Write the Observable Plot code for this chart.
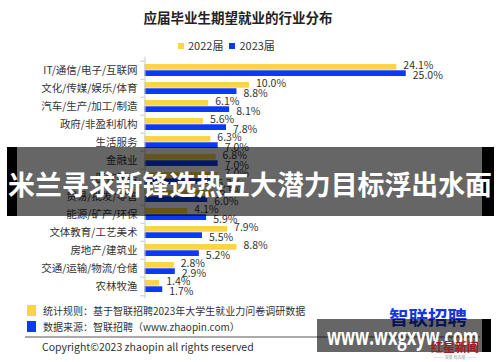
<!DOCTYPE html>
<html><head><meta charset="utf-8">
<script src="https://cdn.jsdelivr.net/npm/d3@7"></script>
<script src="https://cdn.jsdelivr.net/npm/@observablehq/plot@0.6"></script>
<style>
body{margin:0;width:500px;height:362px;overflow:hidden;background:#fff;font-family:"Noto Sans CJK SC","Noto Sans",sans-serif;}
#wrap{position:relative;width:500px;height:362px;}
#chart{position:absolute;left:0;top:0;}
.abs{position:absolute;white-space:nowrap;line-height:1;color:#333;}
#over{position:absolute;left:0;top:0;}
</style></head><body>
<div id="wrap">
<div id="chart"></div>
<div class="abs" id="title" style="left:0;width:476px;text-align:center;top:11px;font-size:13.5px;font-weight:bold;color:#222;">应届毕业生期望就业的行业分布</div>
<div class="abs" id="legend" style="left:178px;top:40px;font-size:11px;"></div>
<div class="abs" style="left:27px;top:305px;width:9px;height:11px;background:#FDD443;"></div>
<div class="abs" style="left:43px;top:306px;font-size:10px;">统计规则：基于智联招聘2023年大学生就业力问卷调研数据</div>
<div class="abs" style="left:27px;top:321px;width:9px;height:11px;background:#0A3AF2;"></div>
<div class="abs" style="left:43px;top:322px;font-size:10px;">数据来源：智联招聘（www.zhaopin.com）</div>
<div class="abs" style="left:25px;top:336px;width:455px;height:1.5px;background:#aaa;"></div>
<div class="abs" style="left:42px;top:342px;font-size:10.5px;">Copyright©2023 zhaopin all rights reserved</div>
<div class="abs" style="left:389px;top:307px;font-size:19.5px;font-weight:bold;color:#1538d8;">智联招聘</div>
<svg id="over" width="500" height="362"></svg>
</div>
<script>
const categories = ["IT/通信/电子/互联网","文化/传媒/娱乐/体育","汽车/生产/加工/制造","政府/非盈利机构","生活服务","金融业","医疗服务","贸易/批发/零售","能源/矿产/环保","文体教育/工艺美术","房地产/建筑业","交通/运输/物流/仓储","农林牧渔"];
const values2022 = [24.1,10.0,6.1,5.6,6.3,6.8,7.0,6.5,4.1,7.9,8.8,2.8,1.4];
const values2023 = [25.0,8.8,8.1,7.8,7.0,7.0,6.3,6.0,5.9,5.5,5.2,2.9,1.7];
const seriesNames = ["2022届","2023届"];
const colors = ["#FDD443","#0A3AF2"];

const rows = categories.map((c,i)=>({category:c, v2022:values2022[i], v2023:values2023[i]}));
const half = 9.29;
const chart = Plot.plot({
  width:500, height:362,
  marginLeft:144.5, marginRight:94.25, marginTop:56.7, marginBottom:63.7,
  x:{domain:[0,25], axis:null},
  y:{domain:categories, padding:0, axis:null},
  style:{fontFamily:'"Noto Sans CJK SC","Noto Sans",sans-serif', fontSize:"10.5px", color:"#333", background:"transparent"},
  marks:[
    Plot.barX(rows,{x:"v2022", y:"category", fill:colors[0], insetTop:3, insetBottom:half}),
    Plot.barX(rows,{x:"v2023", y:"category", fill:colors[1], insetTop:half, insetBottom:3}),
    Plot.ruleX([0],{stroke:"#c8c8c8"}),
    Plot.ruleY(categories,{y:d=>d, x1:-0.4, x2:0, dy:-half, stroke:"#c8c8c8"}),
    Plot.ruleY(categories.slice(-1),{y:d=>d, x1:-0.4, x2:0, dy:half, stroke:"#c8c8c8"}),
    Plot.text(categories,{y:d=>d, x:0, text:d=>d, dx:-7.5, textAnchor:"end", fill:"#333", fontSize:10.5}),
    Plot.text(rows,{x:"v2022", y:"category", text:d=>d.v2022.toFixed(1)+"%", dx:6.5, dy:-4.5, textAnchor:"start", fill:"#333", fontSize:10.5}),
    Plot.text(rows,{x:"v2023", y:"category", text:d=>d.v2023.toFixed(1)+"%", dx:6.5, dy:4.8, textAnchor:"start", fill:"#333", fontSize:10.5})
  ]
});
document.getElementById("chart").appendChild(chart);

const lg = document.getElementById("legend");
lg.innerHTML = seriesNames.map((s,i)=>`<span style="display:inline-block;width:6px;height:6px;background:${colors[i]};margin-right:4px;vertical-align:1px;"></span><span style="margin-right:6px;">${s}</span>`).join("");

const ov = d3.select("#over");
ov.append("rect").attr("x",7).attr("y",147).attr("width",10).attr("height",69).attr("fill","#000");
ov.append("rect").attr("x",17).attr("y",147).attr("width",465).attr("height",69).attr("fill","rgba(0,0,0,0.6)");
ov.append("rect").attr("x",482).attr("y",147).attr("width",12).attr("height",69).attr("fill","#000");
ov.append("text").attr("x",250).attr("y",195).attr("text-anchor","middle").attr("fill","#fff")
  .attr("font-size",27).attr("font-weight","bold").attr("textLength",484).attr("lengthAdjust","spacingAndGlyphs")
  .style("font-family",'"Noto Sans CJK SC",sans-serif').text("米兰寻求新锋选热五大潜力目标浮出水面");
ov.append("rect").attr("x",317).attr("y",319).attr("width",165).attr("height",33).attr("fill","rgba(0,0,0,0.6)");
ov.append("rect").attr("x",482).attr("y",319).attr("width",9).attr("height",33).attr("fill","#000");
ov.append("text").attr("x",327).attr("y",345).attr("fill","#fff").attr("font-size",23).attr("font-weight","bold")
  .attr("textLength",152).attr("lengthAdjust","spacingAndGlyphs").style("font-family",'"Open Sans",sans-serif').text("www.wxgxyw.com");
ov.append("text").attr("x",455).attr("y",352).attr("text-anchor","middle").attr("fill","#a31d1d").attr("font-size",12)
  .attr("font-weight","bold").style("font-family",'"Noto Sans CJK SC",sans-serif').text("红星新闻");
ov.append("text").attr("x",455).attr("y",359).attr("text-anchor","middle").attr("fill","#999").attr("font-size",4)
  .style("font-family",'"Noto Sans CJK SC",sans-serif').text("——— 深度 有态度 ———");
</script>
</body></html>
